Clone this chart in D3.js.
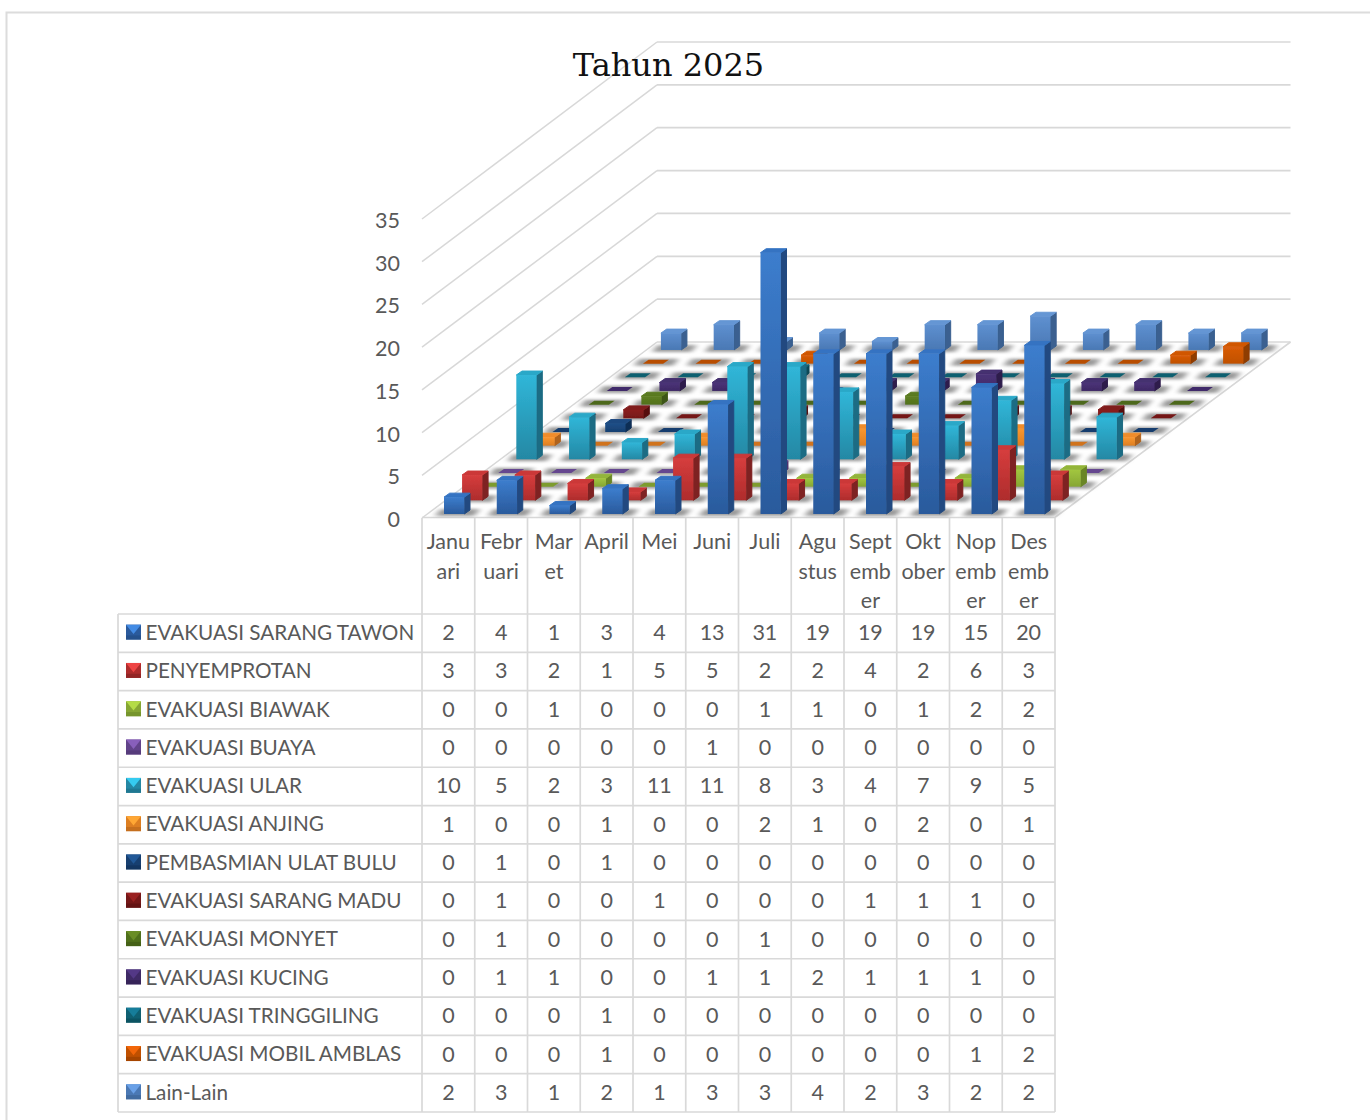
<!DOCTYPE html>
<html><head><meta charset="utf-8">
<script src="https://cdn.jsdelivr.net/npm/d3@7/dist/d3.min.js"></script>
<style>html,body{margin:0;padding:0;background:#fff}svg{display:block}
text{font-family:Lato,"Noto Sans",sans-serif;fill:#595959}</style>
</head><body><svg id="c" width="1370" height="1120"></svg>
<script>
const months = ["Januari","Februari","Maret","April","Mei","Juni","Juli","Agustus","September","Oktober","Nopember","Desember"];
const monthLines = [["Janu","ari"],["Febr","uari"],["Mar","et"],["April"],["Mei"],["Juni"],["Juli"],["Agu","stus"],["Sept","emb","er"],["Okt","ober"],["Nop","emb","er"],["Des","emb","er"]];
const seriesNames = ["EVAKUASI SARANG TAWON","PENYEMPROTAN","EVAKUASI BIAWAK","EVAKUASI BUAYA","EVAKUASI ULAR","EVAKUASI ANJING","PEMBASMIAN ULAT BULU","EVAKUASI SARANG MADU","EVAKUASI MONYET","EVAKUASI KUCING","EVAKUASI TRINGGILING","EVAKUASI MOBIL AMBLAS","Lain-Lain"];
const tawon = [2,4,1,3,4,13,31,19,19,19,15,20];
const semprot = [3,3,2,1,5,5,2,2,4,2,6,3];
const biawak = [0,0,1,0,0,0,1,1,0,1,2,2];
const buaya = [0,0,0,0,0,1,0,0,0,0,0,0];
const ular = [10,5,2,3,11,11,8,3,4,7,9,5];
const anjing = [1,0,0,1,0,0,2,1,0,2,0,1];
const ulat = [0,1,0,1,0,0,0,0,0,0,0,0];
const madu = [0,1,0,0,1,0,0,0,1,1,1,0];
const monyet = [0,1,0,0,0,0,1,0,0,0,0,0];
const kucing = [0,1,1,0,0,1,1,2,1,1,1,0];
const tringgiling = [0,0,0,1,0,0,0,0,0,0,0,0];
const mobil = [0,0,0,1,0,0,0,0,0,0,1,2];
const lain = [2,3,1,2,1,3,3,4,2,3,2,2];
const seriesValues = [tawon,semprot,biawak,buaya,ular,anjing,ulat,madu,monyet,kucing,tringgiling,mobil,lain];
const yTicks = [0,5,10,15,20,25,30,35];
// [front top, front bottom, side, top, flat]
const palette = [
 ["#3c7dcd","#2a5a9c","#214a80","#3473c2","#2a65ad"],
 ["#d63d3d","#ae2c2c","#7e2020","#cb3838","#a82a2a"],
 ["#a2c63f","#86a634","#6a8628","#93b53a","#7d9c2e"],
 ["#7a55a8","#62438a","#4c3470","#6d4c9a","#65468f"],
 ["#30b6d8","#2488a4","#1b6c84","#2ba8c8","#2590ac"],
 ["#f9962f","#dd7f22","#b0631c","#f08c2a","#d0731f"],
 ["#1e4f88","#173f70","#102f55","#1b4a80","#153e6e"],
 ["#8a1e1e","#751818","#561010","#801b1b","#741515"],
 ["#5f7f22","#50701c","#3d5614","#5a7a20","#4e691a"],
 ["#4b3278","#3f2a66","#2e1e4c","#45306f","#40296a"],
 ["#14708a","#0f6072","#0a4856","#126878","#0f6070"],
 ["#d95c08","#c05000","#8f3c00","#d05600","#b84e00"],
 ["#5e90d0","#4a78b4","#3a6090","#6596d4","#4f80bc"]
];
const svg = d3.select("#c");
const defs = svg.append("defs");
defs.append("filter").attr("id","sh").attr("x","-60%").attr("y","-100%").attr("width","220%").attr("height","300%")
    .append("feGaussianBlur").attr("stdDeviation","3.4 1.8");
defs.append("filter").attr("id","soft").attr("x","-5%").attr("y","-5%").attr("width","110%").attr("height","110%")
    .append("feGaussianBlur").attr("stdDeviation","0.5");
palette.forEach((p,i)=>{
  const g = defs.append("linearGradient").attr("id","g"+i).attr("x1",0).attr("y1",0).attr("x2",0).attr("y2",1);
  g.append("stop").attr("offset",0).attr("stop-color",p[0]);
  g.append("stop").attr("offset",1).attr("stop-color",p[1]);
});
// Frame
const frameColor = "#dcdcdc";
svg.append("path").attr("d","M6.5,1120V12.5H1370").attr("fill","none").attr("stroke",frameColor).attr("stroke-width",2);

// Scales
const colX = d3.scaleBand().domain(months).range([422,1055]);
const depthX = d3.scaleBand().domain(seriesNames).range([0,235]);
const depthY = d3.scaleBand().domain(seriesNames).range([0,177.7]);
const wallY = d3.scaleLinear().domain([0,35]).range([518,219]);
const backY = d3.scaleLinear().domain([0,35]).range([342,42]);
const barH = d3.scaleLinear().domain([0,35]).range([0,295]);
const grid = "#d8d8d8";

// Walls
const walls = svg.append("g").attr("fill","none").attr("stroke",grid);
yTicks.forEach(v=>{
  walls.append("path").attr("d",d3.line()([[422,wallY(v)],[657,backY(v)]])).attr("stroke-width",1.5);
  walls.append("path").attr("d",d3.line()([[657,backY(v)],[1290.5,backY(v)]])).attr("stroke-width",1.7);
});
// Floor outline
walls.append("path").attr("d","M422,517.5H1055L1290.5,342").attr("stroke-width",1.7);

// Value axis
const axisScale = d3.scaleLinear().domain([0,35]).range([519,220]);
const axis = d3.axisLeft(axisScale).tickValues(yTicks).tickSize(0).tickPadding(0);
const ax = svg.append("g").attr("transform","translate(400,0)").call(axis);
ax.select(".domain").remove();
ax.selectAll("text").style("font-size","21.5px").style("font-family","Lato").attr("fill","#595959").attr("dy","0.35em");

// Bars
const inset=22, bw=20.3, dx=5.7, dy=4, baseY=514;
const shadows = svg.append("g").attr("filter","url(#sh)");
const bars = svg.append("g").attr("filter","url(#soft)");
const P = pts=>d3.line()(pts)+"Z";
for(let s=seriesNames.length-1;s>=0;s--){
  const name=seriesNames[s];
  const ox=depthX(name), oy=depthY(name);
  seriesValues[s].forEach((v,c)=>{
    const x0=colX(months[c])+inset+ox, y0=baseY-oy;
    shadows.append("path").attr("fill","#9a9a9a")
      .attr("d",P([[x0-9,y0+2],[x0+bw+10,y0+2],[x0+bw+dx+10,y0-dy-1],[x0+dx-9,y0-dy-1]]));
    const h=barH(v), p=palette[s];
    const g=bars.append("g");
    if(v===0){
      g.append("path").attr("fill",p[4]).attr("d",P([[x0,y0],[x0+bw,y0],[x0+bw+dx,y0-dy],[x0+dx,y0-dy]]));
    } else {
      const t=y0-h;
      g.append("path").attr("fill",p[2]).attr("stroke",p[2]).attr("stroke-width",1).attr("stroke-linejoin","round")
        .attr("d",P([[x0+bw,y0],[x0+bw+dx,y0-dy],[x0+bw+dx,t-dy],[x0+bw,t]]));
      g.append("path").attr("fill",p[3]).attr("stroke",p[3]).attr("stroke-width",1).attr("stroke-linejoin","round")
        .attr("d",P([[x0,t],[x0+bw,t],[x0+bw+dx,t-dy],[x0+dx,t-dy]]));
      g.append("rect").attr("x",x0).attr("y",t).attr("width",bw).attr("height",h).attr("fill",`url(#g${s})`);
    }
  });
}

// Table
const rowTop=d3.scaleBand().domain(seriesNames).range([614,1112]);
const lineC="#d9d9d9", table=svg.append("g");
const L=(x1,y1,x2,y2)=>table.append("line").attr("x1",x1).attr("y1",y1).attr("x2",x2).attr("y2",y2).attr("stroke",lineC).attr("stroke-width",1.7);
d3.range(0,14).forEach(i=>L(118,614+i*rowTop.step(),1055,614+i*rowTop.step()));
L(118,614,118,1112);
d3.range(0,13).forEach(i=>L(422+i*colX.step(),518,422+i*colX.step(),1112));
const tfs=21.5;
monthLines.forEach((ls,c)=>ls.forEach((t,i)=>{
  table.append("text").text(t).attr("x",colX(months[c])+colX.step()/2).attr("y",541.5+i*29.5).attr("dy","0.35em")
    .attr("text-anchor","middle").style("font-size",tfs+"px");
}));
seriesNames.forEach((n,s)=>{
  const y=rowTop(n), cy=y+rowTop.step()/2-1, p=palette[s];
  const x=126, z=15, t=cy-7.5;
  table.append("rect").attr("x",x).attr("y",t).attr("width",z).attr("height",z).attr("fill",p[1]);
  table.append("rect").attr("x",x).attr("y",t+z*0.72).attr("width",z).attr("height",z*0.28).attr("fill",p[2]).attr("opacity",.55);
  table.append("path").attr("fill",d3.color(p[0]).brighter(.3)).attr("d",P([[x,t],[x+z,t],[x+z/2,t+z*0.62]]));
  table.append("text").text(n).attr("x",145.5).attr("y",cy+0.5).attr("dy","0.35em").style("font-size","20.7px");
  seriesValues[s].forEach((v,c)=>{
    table.append("text").text(v).attr("x",colX(months[c])+colX.step()/2).attr("y",cy+0.5).attr("dy","0.35em")
      .attr("text-anchor","middle").style("font-size",tfs+"px");
  });
});
// Title
svg.append("text").text("Tahun 2025").attr("x",668.5).attr("y",76).attr("text-anchor","middle")
  .style("font-family","'DejaVu Serif'").style("font-size","32px").style("fill","#111");
</script></body></html>
